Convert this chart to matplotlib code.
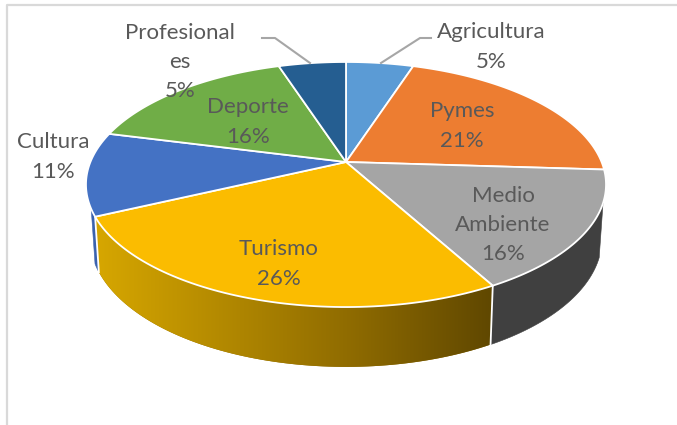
import numpy as np
import matplotlib
matplotlib.use("Agg")
from matplotlib import pyplot as plt

categories = ['Agricultura', 'Pymes', 'Medio\nAmbiente', 'Turismo', 'Cultura', 'Deporte', 'Profesional\nes']
shares = [5, 21, 16, 26, 11, 16, 5]
top_colors = ['#5B9BD5', '#ED7D31', '#A5A5A5', '#FBBC00', '#4472C4', '#70AD47', '#255E91']

# where each label sits, in pixels of the picture
label_pos = [(491, 47), (462, 126), (503, 225), (279, 264), (53, 157), (248, 122), (180, 62)]

plt.rcParams['font.family'] = ['Lato', 'DejaVu Sans']

# pie apex and perspective, worked out from the slice corners in the picture
cx, cy = 346, 162
c, a, p = 255.6, 118.4, 0.1837


def project(theta, scale=1.0, wall=False):
    x, y = np.sin(theta), np.cos(theta)
    d = 1 + p * y
    drop = 52 + 10 * np.abs(y) if wall else 0
    return cx + scale * c * x / d, cy - scale * a * y / d + drop


fig = plt.figure(figsize=(6.77, 4.25), dpi=100)
ax = fig.add_axes([0, 0, 1, 1])

# chart border, only top and left are in the crop
ax.plot([7, 7, 677], [425, 4.5, 4.5], color='#D9D9D9', lw=1.6, zorder=1)

edges = np.radians(np.cumsum([0] + shares) * 3.6)

# side wall, front part only
wall_colors = {'Medio\nAmbiente': '#404040', 'Turismo': None, 'Cultura': '#3A62AE'}
for name, t0, t1 in zip(categories, edges[:-1], edges[1:]):
    if name not in wall_colors:
        continue
    t0 = max(t0, np.radians(109))
    if name == 'Cultura':
        t1 = t0 + np.radians(3.5)
    ts = np.linspace(t0, t1, 80)
    xt, yt = project(ts)
    xb, yb = project(ts[::-1], 0.985, True)
    wx, wy = list(xt) + list(xb), list(yt) + list(yb)
    if name == 'Turismo':
        poly = ax.fill(wx, wy, color='#906C00', lw=0, zorder=2)[0]
        stops = np.array([[0xD8, 0xA8, 0x00], [0x90, 0x6C, 0x00], [0x5F, 0x47, 0x00]]) / 255
        grad_x = np.linspace(95, 490, 200)
        grad = np.stack([np.interp(grad_x, [95, 346, 490], stops[:, i]) for i in range(3)], axis=-1)[None, :, :]
        im = ax.imshow(grad, extent=(90, 495, 380, 200), aspect='auto', zorder=2.1)
        im.set_clip_path(poly)
    else:
        ax.fill(wx, wy, color=wall_colors[name], lw=0.4, zorder=2)

ax.set_xlim(0, 677)
ax.set_ylim(425, 0)
ax.axis('off')

# white seams on the wall
for seam in (edges[3], edges[4]):
    xt, yt = project(seam)
    xb, yb = project(seam, 0.985, True)
    ax.plot([xt, xb], [yt, yb], color='white', lw=1.3, zorder=3)

# top face
for col, t0, t1 in zip(top_colors, edges[:-1], edges[1:]):
    ts = np.linspace(t0, t1, 80)
    xs, ys = project(ts)
    ax.fill([cx] + list(xs), [cy] + list(ys), facecolor=col, edgecolor='white', lw=1.3,
            joinstyle='round', zorder=4)

# leader lines
ax.plot([262, 275, 310], [38, 38, 63], color='#A6A6A6', lw=1.5, zorder=5)
ax.plot([431, 420, 381], [38, 38, 63], color='#A6A6A6', lw=1.5, zorder=5)

for name, share, (lx, ly) in zip(categories, shares, label_pos):
    ax.text(lx, ly, '%s\n%d%%' % (name, share), ha='center', va='center', fontsize=16,
            color='#595959', linespacing=1.58, zorder=6)

fig.savefig('out.png', dpi=100)
